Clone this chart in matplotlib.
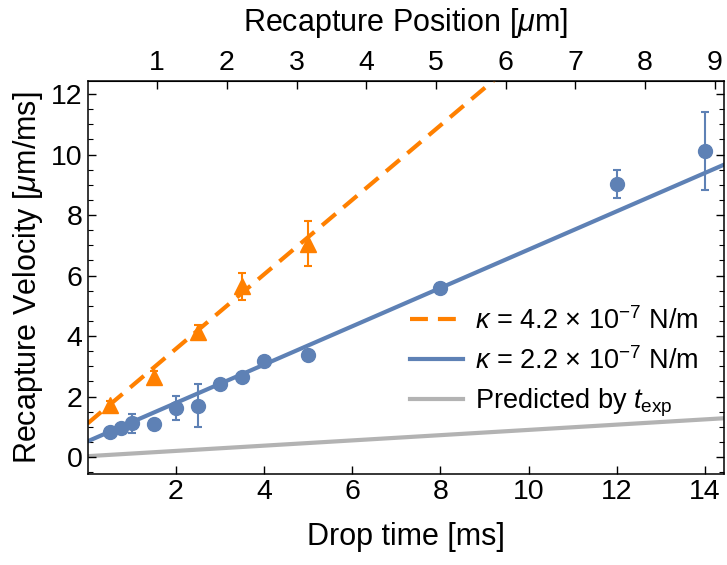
import matplotlib
matplotlib.use("Agg")
import matplotlib.pyplot as plt
import numpy as np
from matplotlib.ticker import MultipleLocator

plt.rcParams['font.family'] = ['Liberation Sans', 'DejaVu Sans']
plt.rcParams['mathtext.fontset'] = 'custom'
plt.rcParams['mathtext.rm'] = 'Liberation Sans'
plt.rcParams['mathtext.it'] = 'Liberation Sans:italic'

# blue data set (kappa = 2.2e-7)
blue_t = [0.5, 0.75, 1.0, 1.5, 2.0, 2.5, 3.0, 3.5, 4.0, 5.0, 8.0, 12.0, 14.0]
blue_v = [0.84, 0.95, 1.12, 1.09, 1.61, 1.70, 2.43, 2.64, 3.16, 3.37, 5.60, 9.03, 10.12]
blue_err = [0.0, 0.0, 0.32, 0.0, 0.40, 0.70, 0.0, 0.15, 0.0, 0.0, 0.15, 0.47, 1.30]

# orange data set (kappa = 4.2e-7)
orange_t = [0.5, 1.5, 2.5, 3.5, 5.0]
orange_v = [1.72, 2.64, 4.15, 5.65, 7.05]
orange_err = [0.12, 0.22, 0.2, 0.45, 0.75]

# fitted / predicted lines (end points)
fit_t = [0.0, 14.5]
orange_fit = [1.11, 18.97]
blue_fit = [0.52, 9.71]
predicted = [0.03, 1.29]

ms_per_um = 1.58  # drop time per recapture position, for top axis
top_ticks = [1, 2, 3, 4, 5, 6, 7, 8, 9]

blue = '#5E81B5'
orange = '#FF8000'
gray = '#B3B3B3'

fig = plt.figure(figsize=(7.27, 5.65), dpi=100)
ax = fig.add_axes([0.1204, 0.161, 0.8755, 0.6956])

ax.plot(fit_t, predicted, color=gray, lw=3, label=r'Predicted by $t_{\mathrm{exp}}$', zorder=1)
ax.plot(fit_t, blue_fit, color=blue, lw=3, label=r'$\kappa$ = 2.2 × 10$^{-7}$ N/m', zorder=2)
ax.plot(fit_t, orange_fit, color=orange, lw=3, dashes=(4.3, 2.4), dash_capstyle='butt',
        label=r'$\kappa$ = 4.2 × 10$^{-7}$ N/m', zorder=2)

ax.errorbar(blue_t, blue_v, yerr=blue_err, fmt='o', color=blue, ms=10,
            elinewidth=1.5, capsize=3, capthick=1.5, zorder=3)
ax.errorbar(orange_t, orange_v, yerr=orange_err, fmt='^', color=orange, ms=11.5,
            elinewidth=1.5, capsize=3, capthick=1.5, zorder=3)

ax.set_xlim(0, 14.43)
ax.set_ylim(-0.56, 12.43)
ax.set_xticks([2, 4, 6, 8, 10, 12, 14])
ax.set_yticks([0, 2, 4, 6, 8, 10, 12])
ax.yaxis.set_minor_locator(MultipleLocator(0.5))
ax.tick_params(axis='both', which='both', direction='in', labelsize=20.5)
ax.tick_params(axis='y', which='both', right=True)
ax.tick_params(axis='x', which='major', length=6, width=1)
ax.tick_params(axis='y', which='major', length=6, width=1)
ax.tick_params(axis='y', which='minor', length=3.5, width=0.8)
for s in ax.spines.values():
    s.set_linewidth(1.1)

ax.set_xlabel('Drop time [ms]', fontsize=22, labelpad=12)
ax.set_ylabel(r'Recapture Velocity [$\mu$m/ms]', fontsize=22, labelpad=4)

top = ax.secondary_xaxis('top', functions=(lambda t: t / ms_per_um, lambda p: p * ms_per_um))
top.set_xticks(top_ticks)
top.tick_params(direction='in', labelsize=20.5, length=6, width=1)
top.set_xlabel(r'Recapture Position [$\mu$m]', fontsize=22, labelpad=14)

handles, labels = ax.get_legend_handles_labels()
order = [2, 1, 0]
ax.legend([handles[i] for i in order], [labels[i] for i in order],
          loc='center left', bbox_to_anchor=(410 / 727, 1 - 363 / 565),
          bbox_transform=fig.transFigure, frameon=False, fontsize=19.5,
          handlelength=1.95, handletextpad=0.45, labelspacing=0.45,
          borderpad=0, borderaxespad=0)

fig.savefig('out.png', dpi=100)
